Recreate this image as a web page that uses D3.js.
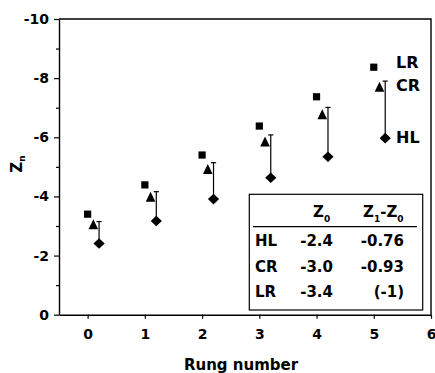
<!DOCTYPE html>
<html>
<head>
<meta charset="utf-8">
<script src="https://cdn.jsdelivr.net/npm/d3@7"></script>
<style>
  html, body { margin: 0; padding: 0; background: #fff; }
  svg { display: block; }
  text { font-family: "DejaVu Sans", "Liberation Sans", Arial, sans-serif; font-weight: bold; fill: #000; }
</style>
</head>
<body>
<svg id="chart" width="435" height="373"></svg>
<script>
// ---- data ----
const rungs = [0, 1, 2, 3, 4, 5];
const lrValues = [-3.40, -4.39, -5.40, -6.38, -7.37, -8.37];
const crValues = [-3.06, -3.99, -4.93, -5.86, -6.78, -7.71];
const hlValues = [-2.41, -3.17, -3.91, -4.63, -5.34, -5.97];
const capValues = [-3.15, -4.16, -5.14, -6.08, -7.01, -7.90];
const xTicks = [0, 1, 2, 3, 4, 5, 6];
const yMajorTicks = [0, -2, -4, -6, -8, -10];
const yMinorTicks = [-1, -3, -5, -7, -9];
const seriesLabels = ["LR", "CR", "HL"];
const tableHeader = ["", "Z0", "Z1-Z0"];
const tableRows = [
  ["HL", "-2.4", "-0.76"],
  ["CR", "-3.0", "-0.93"],
  ["LR", "-3.4", "(-1)"]
];

// ---- layout ----
const svg = d3.select("#chart");
const L = 59, R = 431, T = 19, B = 314.7;
const x = d3.scaleLinear().domain([-0.5, 6]).range([L, R]);
const y = d3.scaleLinear().domain([0, -10]).range([B, T]);
const fmt = (d) => String(d);

// frame (top & right)
svg.append("path")
  .attr("d", `M${L},${T}H${R}V${B}`)
  .attr("fill", "none").attr("stroke", "#000").attr("stroke-width", 1.4);

// y axis
const yAxis = d3.axisLeft(y).tickValues(yMajorTicks).tickSize(5).tickSizeOuter(0).tickPadding(5).tickFormat(fmt);
const gy = svg.append("g").attr("transform", `translate(${L},0)`).call(yAxis);
gy.selectAll("text").style("font-size", "14px").style("font-weight", "bold");
gy.select(".domain").attr("stroke-width", 1.4);
gy.selectAll(".tick line").attr("stroke-width", 1.2);
// minor y ticks
const yMinor = d3.axisLeft(y).tickValues(yMinorTicks).tickSize(3).tickSizeOuter(0).tickFormat("");
const gym = svg.append("g").attr("transform", `translate(${L},0)`).call(yMinor);
gym.select(".domain").remove();
gym.selectAll(".tick line").attr("stroke-width", 1.2);

// x axis
const xAxis = d3.axisBottom(x).tickValues(xTicks).tickSize(4).tickSizeOuter(0).tickPadding(10).tickFormat(fmt);
const gx = svg.append("g").attr("transform", `translate(0,${B})`).call(xAxis);
gx.selectAll("text").style("font-size", "14px").style("font-weight", "bold");
gx.select(".domain").attr("stroke-width", 1.4);
gx.selectAll(".tick line").attr("stroke-width", 1.2);

// axis titles
svg.append("text").attr("x", 241).attr("y", 370).attr("text-anchor", "middle")
  .style("font-size", "15px").text("Rung number");
const yt = svg.append("text").attr("transform", "translate(22,164) rotate(-90)")
  .attr("text-anchor", "middle").style("font-size", "15px");
yt.append("tspan").text("Z");
yt.append("tspan").attr("dy", 3).style("font-size", "9px").text("n");

// error bars (HL to cap) at rung + 0.2
const eb = svg.append("g");
rungs.forEach((r, i) => {
  const xx = x(r + 0.2);
  eb.append("line").attr("x1", xx).attr("x2", xx).attr("y1", y(hlValues[i])).attr("y2", y(capValues[i]))
    .attr("stroke", "#000").attr("stroke-width", 1.2);
  eb.append("line").attr("x1", xx - 2.6).attr("x2", xx + 2.6).attr("y1", y(capValues[i])).attr("y2", y(capValues[i]))
    .attr("stroke", "#000").attr("stroke-width", 1.2);
});

// markers
const marks = svg.append("g");
marks.selectAll(".sq").data(rungs).enter().append("rect")
  .attr("x", (d) => x(d) - 3.6).attr("y", (d, i) => y(lrValues[i]) - 3.6)
  .attr("width", 7.2).attr("height", 7.2).attr("fill", "#000");
marks.selectAll(".tri").data(rungs).enter().append("path")
  .attr("d", (d, i) => {
    const cx = x(d + 0.1), cy = y(crValues[i]);
    return `M${cx},${cy - 5}L${cx + 4.8},${cy + 5}L${cx - 4.8},${cy + 5}Z`;
  }).attr("fill", "#000");
marks.selectAll(".dia").data(rungs).enter().append("path")
  .attr("d", (d, i) => {
    const cx = x(d + 0.2), cy = y(hlValues[i]);
    return `M${cx},${cy - 5.3}L${cx + 5.6},${cy}L${cx},${cy + 5.3}L${cx - 5.6},${cy}Z`;
  }).attr("fill", "#000");

// series labels
const labelBaselines = [68, 91, 143];
seriesLabels.forEach((s, i) => {
  svg.append("text").attr("x", 396).attr("y", labelBaselines[i]).style("font-size", "16px").text(s);
});

// inset table
const tb = svg.append("g");
tb.append("rect").attr("x", 249.3).attr("y", 194.3).attr("width", 173.4).attr("height", 115.7)
  .attr("fill", "#fff").attr("stroke", "#000").attr("stroke-width", 1.2);
tb.append("line").attr("x1", 253).attr("x2", 417).attr("y1", 226.7).attr("y2", 226.7)
  .attr("stroke", "#000").attr("stroke-width", 1.2);
// header
const h1 = tb.append("text").attr("x", 313).attr("y", 216.7).style("font-size", "15px");
h1.append("tspan").text(tableHeader[1][0]);
h1.append("tspan").attr("dy", 5).style("font-size", "9px").text(tableHeader[1][1]);
const h2 = tb.append("text").attr("x", 363).attr("y", 216.7).style("font-size", "15px");
h2.append("tspan").text("Z");
h2.append("tspan").attr("dy", 5).style("font-size", "9px").text("1");
h2.append("tspan").attr("dy", -5).text("-Z");
h2.append("tspan").attr("dy", 5).style("font-size", "9px").text("0");
// rows
const rowBaselines = [245.7, 271.7, 297.3];
tableRows.forEach((row, i) => {
  tb.append("text").attr("x", 255).attr("y", rowBaselines[i]).style("font-size", "15px").text(row[0]);
  tb.append("text").attr("x", 333).attr("y", rowBaselines[i]).attr("text-anchor", "end").style("font-size", "15px").text(row[1]);
  tb.append("text").attr("x", 404).attr("y", rowBaselines[i]).attr("text-anchor", "end").style("font-size", "15px").text(row[2]);
});
</script>
</body>
</html>
